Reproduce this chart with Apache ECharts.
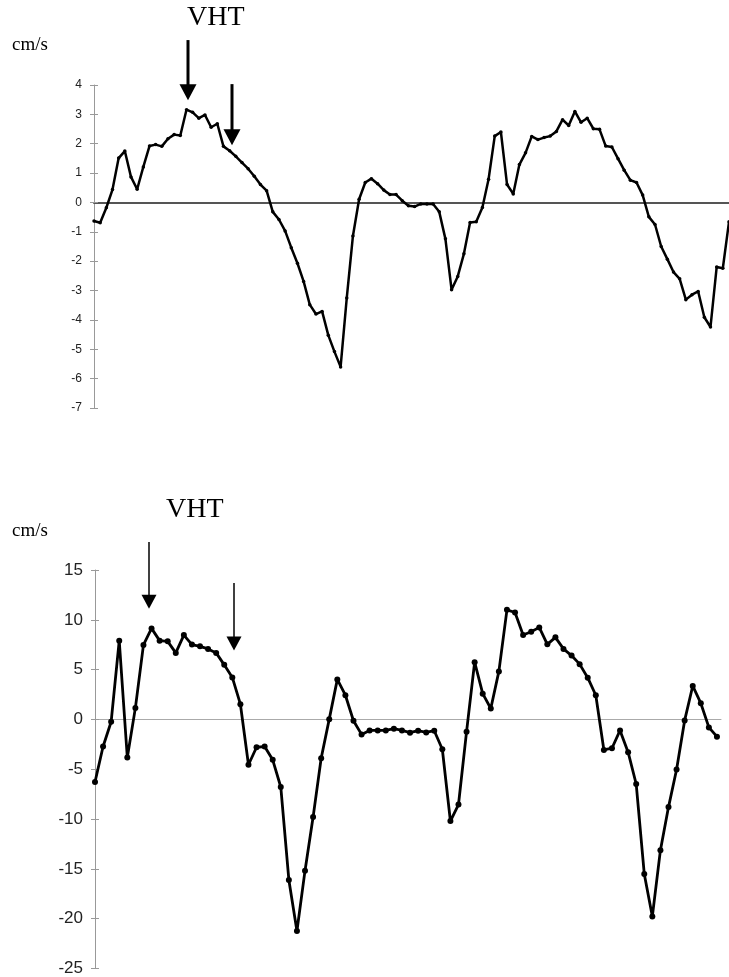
<!DOCTYPE html>
<html>
<head>
<meta charset="utf-8">
<script src="https://cdn.jsdelivr.net/npm/echarts@6/dist/echarts.min.js"></script>
<style>
  html, body { margin: 0; background: #fff; }
  #main { width: 729px; height: 977px; }
</style>
</head>
<body>
<div id="main"></div>
<script>
// top panel: velocity samples (cm/s)
var topValues = [
  -0.63, -0.69, -0.18, 0.44, 1.51, 1.75, 0.87, 0.45, 1.21, 1.92, 1.97, 1.91, 2.17, 2.31, 2.28, 3.16,
  3.07, 2.87, 2.98, 2.56, 2.68, 1.91, 1.76, 1.57, 1.36, 1.15, 0.89, 0.61, 0.40, -0.32, -0.58, -0.97,
  -1.54, -2.07, -2.69, -3.48, -3.80, -3.71, -4.52, -5.08, -5.60, -3.25, -1.14, 0.11, 0.68, 0.81,
  0.64, 0.42, 0.27, 0.27, 0.06, -0.11, -0.14, -0.05, -0.05, -0.05, -0.32, -1.24, -2.97, -2.52,
  -1.75, -0.68, -0.66, -0.17, 0.79, 2.26, 2.40, 0.61, 0.29, 1.29, 1.69, 2.25, 2.14, 2.21, 2.26,
  2.42, 2.82, 2.62, 3.10, 2.73, 2.87, 2.51, 2.49, 1.92, 1.89, 1.49, 1.10, 0.76, 0.68, 0.25, -0.49,
  -0.75, -1.50, -1.93, -2.37, -2.60, -3.31, -3.14, -3.03, -3.91, -4.24, -2.20, -2.24, -0.66
];
// bottom panel: velocity samples (cm/s)
var bottomValues = [
  -6.28, -2.72, -0.23, 7.91, -3.82, 1.16, 7.48, 9.14, 7.91, 7.84, 6.68, 8.47, 7.51, 7.34, 7.08,
  6.68, 5.48, 4.22, 1.53, -4.55, -2.79, -2.72, -4.05, -6.78, -16.11, -21.23, -15.18, -9.80, -3.89,
  0.03, 4.02, 2.43, -0.13, -1.50, -1.10, -1.10, -1.10, -0.93, -1.10, -1.33, -1.13, -1.30, -1.13,
  -2.99, -10.20, -8.54, -1.23, 5.75, 2.59, 1.10, 4.82, 11.00, 10.73, 8.47, 8.80, 9.24, 7.54, 8.24,
  7.08, 6.41, 5.55, 4.19, 2.43, -3.06, -2.89, -1.10, -3.29, -6.48, -15.51, -19.77, -13.12, -8.80,
  -5.02, -0.10, 3.36, 1.63, -0.80, -1.73
];
// y axis ranges / tick spacing
var topAxis = { min: -7, max: 4, interval: 1 };
var bottomAxis = { min: -25, max: 15, interval: 5 };
// VHT arrows: [sample index, value at tail, value at tip]
var topArrows = [[15.2, 5.53, 3.48], [22.4, 4.03, 1.95]];
var bottomArrows = [[6.7, 17.8, 11.1], [17.25, 13.7, 6.93]];

var chart = echarts.init(document.getElementById('main'));

function pairs(arr) {
  return arr.map(function (v, i) { return [i, v]; });
}

function yAxes(grid, range, fontSize) {
  return [{
    gridIndex: grid, type: 'value', min: range.min, max: range.max, interval: range.interval,
    axisLine: { show: true, lineStyle: { color: '#999', width: 1 } },
    axisTick: { show: true, length: 4, lineStyle: { color: '#999' } },
    axisLabel: { margin: 12, color: '#222', fontSize: fontSize, fontFamily: 'Liberation Sans' },
    splitLine: { show: false }
  }, {
    gridIndex: grid, type: 'value', position: 'left', min: range.min, max: range.max, interval: range.interval,
    axisLine: { show: false },
    axisTick: { show: true, inside: true, length: 4, lineStyle: { color: '#999' } },
    axisLabel: { show: false },
    splitLine: { show: false }
  }];
}

var option = {
  animation: false,
  backgroundColor: '#fff',
  grid: [
    { left: 94, top: 85, width: 635, height: 323 },
    { left: 95, top: 570, width: 626, height: 401 }
  ],
  xAxis: [
    { gridIndex: 0, type: 'value', min: 0, max: topValues.length - 1,
      axisLine: { onZero: true, lineStyle: { color: '#555', width: 2 } },
      axisTick: { show: false }, axisLabel: { show: false }, splitLine: { show: false } },
    { gridIndex: 1, type: 'value', min: 0, max: bottomValues.length - 0.5,
      axisLine: { onZero: true, lineStyle: { color: '#aaa', width: 1 } },
      axisTick: { show: false }, axisLabel: { show: false }, splitLine: { show: false } }
  ],
  yAxis: yAxes(0, topAxis, 12).concat(yAxes(1, bottomAxis, 17)),
  series: [
    { type: 'line', xAxisIndex: 0, yAxisIndex: 0, data: pairs(topValues),
      symbol: 'circle', symbolSize: 3.5, showAllSymbol: true,
      lineStyle: { color: '#000', width: 2.5 }, itemStyle: { color: '#000' } },
    { type: 'line', xAxisIndex: 1, yAxisIndex: 2, data: pairs(bottomValues),
      symbol: 'circle', symbolSize: 6, showAllSymbol: true,
      lineStyle: { color: '#000', width: 2.8 }, itemStyle: { color: '#000' } }
  ]
};
chart.setOption(option);

function arrow(grid, a, shaft, headW, headH) {
  var tail = chart.convertToPixel({ gridIndex: grid }, [a[0], a[1]]);
  var tip = chart.convertToPixel({ gridIndex: grid }, [a[0], a[2]]);
  var x = Math.round(tail[0]);
  return [{
    type: 'line', shape: { x1: x, y1: tail[1], x2: x, y2: tip[1] - headH + 1 },
    style: { stroke: '#000', lineWidth: shaft }
  }, {
    type: 'polygon',
    shape: { points: [[x - headW / 2, tip[1] - headH], [x + headW / 2, tip[1] - headH], [x, tip[1]]] },
    style: { fill: '#000' }
  }];
}

var graphics = [
  { type: 'text', left: 12, top: 36, style: { text: 'cm/s', font: '19px "Liberation Serif"', fill: '#000' } },
  { type: 'text', left: 187, top: 4, style: { text: 'VHT', font: '28px "Liberation Serif"', fill: '#000' } },
  { type: 'text', left: 12, top: 522, style: { text: 'cm/s', font: '19px "Liberation Serif"', fill: '#000' } },
  { type: 'text', left: 166, top: 496, style: { text: 'VHT', font: '28px "Liberation Serif"', fill: '#000' } }
];
topArrows.forEach(function (a) { graphics = graphics.concat(arrow(0, a, 3, 17, 16)); });
bottomArrows.forEach(function (a) { graphics = graphics.concat(arrow(1, a, 1.5, 15, 14)); });
chart.setOption({ graphic: graphics });
</script>
</body>
</html>
